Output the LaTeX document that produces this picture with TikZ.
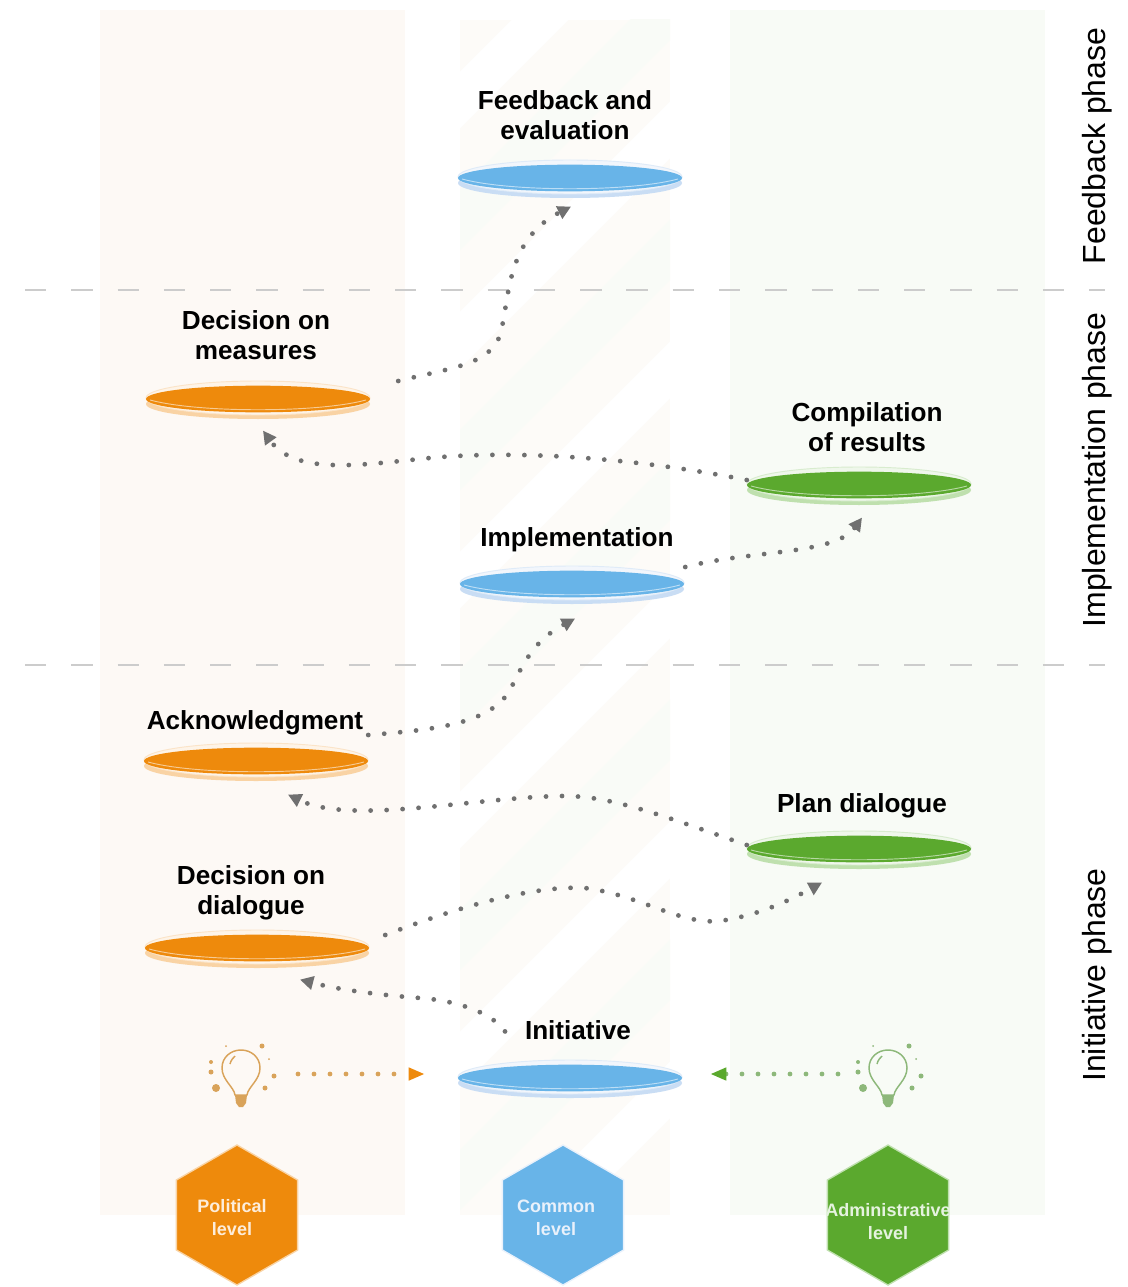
\documentclass[tikz,border=0pt]{standalone}
\usepackage{fontspec}
\setmainfont{Liberation Sans}
\usetikzlibrary{arrows.meta,shapes.geometric,calc}
\definecolor{orangeM}{HTML}{EE8A0C}\definecolor{orangeL}{HTML}{F9D3A4}
\definecolor{blueM}{HTML}{68B4E8}\definecolor{blueL}{HTML}{C9DDF4}
\definecolor{greenM}{HTML}{5BA92E}\definecolor{greenL}{HTML}{BFE0AE}
\definecolor{panelO}{HTML}{FDF9F5}\definecolor{panelG}{HTML}{F8FBF6}
\definecolor{midpanel}{HTML}{FDFBF8}\definecolor{midstripe}{HTML}{F9FBF7}
\definecolor{dotgray}{HTML}{707070}
\definecolor{bulbO}{HTML}{D9A35A}\definecolor{bulbG}{HTML}{8DB87A}
\tikzset{
  disk/.style={ellipse,inner sep=0pt,minimum width=168pt,minimum height=20pt},
  lab/.style={align=center,font=\fontsize{19.6}{22.5}\selectfont\bfseries,text=black,inner sep=0pt},
  phaselab/.style={rotate=90,font=\fontsize{24}{27}\selectfont,text=black,inner sep=0pt},
  hexa/.style={regular polygon,regular polygon sides=6,shape border rotate=30,inner sep=0pt,minimum size=105pt,line width=1pt},
  hexlab/.style={align=center,font=\fontsize{13.5}{17.2}\selectfont\bfseries,text=white,inner sep=0pt},
  dotted line/.style={line width=3.6pt,line cap=round,dash pattern=on 0pt off 12pt,color=#1},
  flow/.style={dotted line=dotgray,-{Triangle[length=10pt,width=10pt,color=dotgray]}},
  phase rule/.style={color=black!20,line width=1pt,dash pattern=on 16pt off 18.7pt},
  bulbline/.style={line width=1.1pt,color=#1,fill=none}
}
% name, x, y, main, light
\newcommand{\platter}[5]{%
  \fill[#5] (#2,#3+5) ellipse [x radius=112,y radius=15];
  \draw[#5!60!white,line width=.7pt,fill=#5!25!white] (#2,#3-1) ellipse [x radius=112,y radius=17];
  \node[disk,fill=#4] (#1) at (#2,#3) {};
  \draw[white!55!#4,line width=.7pt] (#2-108,#3+1) .. controls (#2-60,#3+14) and (#2+60,#3+14) .. (#2+108,#3+1);
}
% x, y of the glass centre, colour
\newcommand{\bulbicon}[3]{%
  \begin{scope}[shift={(#1,#2)}]
    \draw[bulbline=#3] (-6,23) .. controls (-7,15) and (-19,8) .. (-19,-4)
      .. controls (-19,-15) and (-10,-22) .. (0,-22)
      .. controls (10,-22) and (19,-15) .. (19,-4)
      .. controls (19,8) and (7,15) .. (6,23) -- cycle;
    \draw[bulbline=#3] (-11,-8) .. controls (-10,-12) and (-8,-14) .. (-6,-16);
    \fill[#3] (-6,23) -- (6,23) -- (5,31) -- (2,35) -- (-2,35) -- (-5,31) -- cycle;
    \foreach \dx/\dy/\dr in {-30/-10/2,-30/0/2.5,-25/16/4,21/-26/2.5,33/4/2.5,24/16/2.5,-15/-26/1,28/-13/1}
      \fill[#3] (\dx,\dy) circle [radius=\dr];
  \end{scope}}
\begin{document}
\begin{tikzpicture}[x=0.75pt,y=-0.75pt]
\useasboundingbox (0,0) rectangle (1127,1287);
\fill[white] (0,0) rectangle (1127,1287);
% panels
\fill[panelO] (100,10) rectangle (405,1215);
\fill[panelG] (730,10) rectangle (1045,1215);
\begin{scope}
  \clip (460,20) rectangle (670,1215);
  \fill[midpanel] (460,20) rectangle (670,1215);
  \foreach \yy in {120,360,600,840,1080,1320}
    \draw[white,line width=30pt] (440,\yy) -- (700,\yy-260);
  \foreach \yy in {240,480,720,960,1200}
    \draw[midstripe,line width=32pt] (440,\yy) -- (700,\yy-260);
\end{scope}
% phase rules
\coordinate (ruleAl) at (25,290); \coordinate (ruleAr) at (1105,290);
\coordinate (ruleBl) at (25,665); \coordinate (ruleBr) at (1105,665);
\draw[phase rule] (ruleAl) -- (ruleAr);
\draw[phase rule] (ruleBl) -- (ruleBr);
% phase labels
\node[phaselab] (pf) at (1097,146) {Feedback phase};
\node[phaselab] (pm) at (1097,470) {Implementation phase};
\node[phaselab] (pi) at (1097,975) {Initiative phase};
% platters
\platter{fb}{570}{178}{blueM}{blueL}
\platter{dm}{258}{399}{orangeM}{orangeL}
\platter{cr}{859}{485}{greenM}{greenL}
\platter{im}{572}{584}{blueM}{blueL}
\platter{ak}{256}{761}{orangeM}{orangeL}
\platter{pd}{859}{849}{greenM}{greenL}
\platter{dd}{257}{948}{orangeM}{orangeL}
\platter{in}{570}{1078}{blueM}{blueL}
% labels
\node[lab] (lfb) at (565,115) {Feedback and\\evaluation};
\node[lab] (ldm) at (256,335) {Decision on\\measures};
\node[lab] (lcr) at (867,427) {Compilation\\of results};
\node[lab] (lim) at (577,540) {Implementation};
\node[lab] (lak) at (255,723) {Acknowledgment};
\node[lab] (lpd) at (862,806) {Plan dialogue};
\node[lab] (ldd) at (251,893) {Decision on\\dialogue};
\node[lab] (lin) at (578,1030) {Initiative};
% icons
\bulbicon{241}{1072}{bulbO}
\bulbicon{888}{1072}{bulbG}
\coordinate (bo) at (298,1074);
\coordinate (bg) at (838,1074);
% connectors
\draw[flow] ($(dm.east)+(28,-18)$) .. controls (450,368) and (490,365) .. (500,335)
   .. controls (510,300) and (505,240) .. ($(fb.south)+(1,15)$);
\draw[flow] ($(cr.west)+(0,-5)$) .. controls (620,455) and (500,450) .. (420,459)
   .. controls (360,465) and (295,475) .. ($(dm.south)+(5,18)$);
\draw[flow] ($(im.east)+(1,-17)$) .. controls (750,550) and (835,555) .. ($(cr.south)+(3,19)$);
\draw[flow] ($(ak.east)+(0,-26)$) .. controls (430,730) and (490,725) .. (510,690)
   .. controls (525,660) and (535,640) .. ($(im.south)+(3,21)$);
\draw[flow] ($(pd.west)+(0,-4)$) .. controls (660,815) and (610,795) .. (560,796)
   .. controls (470,798) and (350,825) .. ($(ak.south)+(32,20)$);
\draw[flow] ($(dd.east)+(16,-13)$) .. controls (450,910) and (530,885) .. (585,888)
   .. controls (640,895) and (680,925) .. (720,921)
   .. controls (760,915) and (790,900) .. ($(pd.south)+(-37,20)$);
\draw[flow] ($(in.north)+(-65,-33)$) .. controls (490,1010) and (450,1000) .. (420,998)
   .. controls (380,995) and (340,990) .. ($(dd.south)+(43,18)$);
\draw[dotted line=bulbO,-{Triangle[length=12pt,width=9pt,color=orangeM]}] (bo) -- ($(in.west)+(-33,-4)$);
\draw[dotted line=bulbG,-{Triangle[length=12pt,width=9pt,color=greenM]}] (bg) -- ($(in.east)+(28,-4)$);
% hexagons (point up)
\node[hexa,fill=orangeM,draw=orangeL] (ho) at (237,1215) {};
\node[hexa,fill=blueM,draw=blueL!40!white] (hb) at (563,1215) {};
\node[hexa,fill=greenM,draw=greenL] (hg) at (888,1215) {};
\node[hexlab,text=orangeL!40!white] (tho) at (232,1218) {Political\\level};
\node[hexlab,text=blueL!40!white] (thb) at (556,1218) {Common\\level};
\node[hexlab,text=greenL!40!white] (thg) at (888,1222) {Administrative\\level};
\end{tikzpicture}
\end{document}
